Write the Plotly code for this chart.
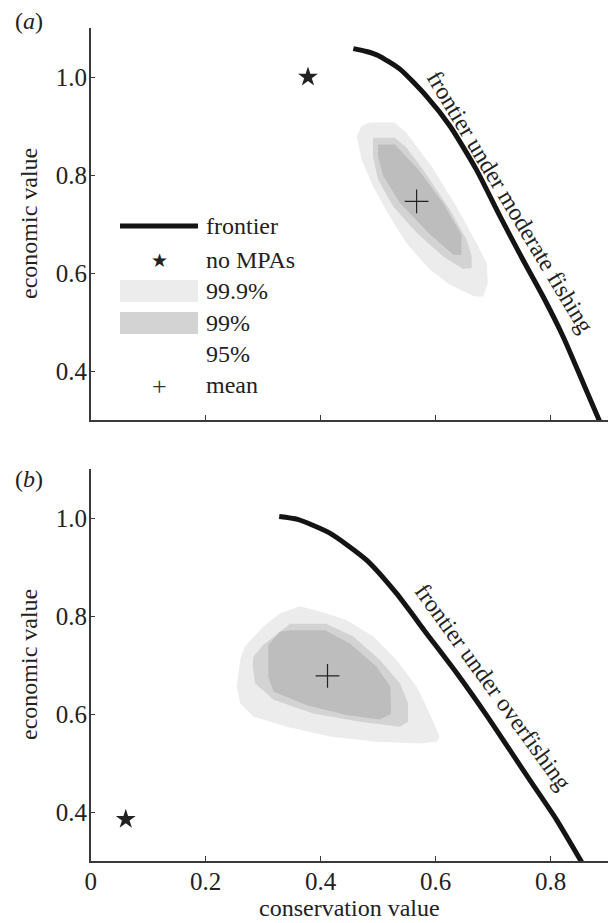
import plotly.graph_objects as go

# ---------------- data ----------------
# panel (a): moderate fishing
frontier_a_x = [0.457, 0.48, 0.50, 0.538, 0.584, 0.625, 0.671, 0.712, 0.752, 0.787, 0.822, 0.857, 0.887]
frontier_a_y = [1.058, 1.052, 1.044, 1.016, 0.961, 0.900, 0.811, 0.716, 0.627, 0.552, 0.470, 0.375, 0.293]
nompa_a = (0.378, 1.0)
mean_a = (0.567, 0.746)
c999_a_x = [0.471, 0.486, 0.529, 0.549, 0.593, 0.636, 0.671, 0.689, 0.691, 0.683, 0.668, 0.625, 0.590, 0.549, 0.520, 0.491, 0.471, 0.463]
c999_a_y = [0.900, 0.907, 0.907, 0.886, 0.818, 0.736, 0.661, 0.620, 0.579, 0.552, 0.552, 0.576, 0.607, 0.661, 0.716, 0.777, 0.832, 0.879]
c99_a_x = [0.491, 0.529, 0.549, 0.578, 0.625, 0.654, 0.663, 0.663, 0.648, 0.613, 0.567, 0.526, 0.500, 0.491]
c99_a_y = [0.876, 0.876, 0.856, 0.811, 0.729, 0.668, 0.634, 0.610, 0.608, 0.634, 0.682, 0.736, 0.791, 0.838]
c95_a_x = [0.500, 0.529, 0.570, 0.613, 0.645, 0.645, 0.631, 0.590, 0.538, 0.509, 0.500]
c95_a_y = [0.862, 0.862, 0.811, 0.743, 0.678, 0.637, 0.637, 0.679, 0.743, 0.798, 0.838]

# panel (b): overfishing
frontier_b_x = [0.328, 0.36, 0.416, 0.48, 0.532, 0.584, 0.637, 0.69, 0.764, 0.81, 0.857]
frontier_b_y = [1.003, 0.997, 0.969, 0.914, 0.846, 0.765, 0.683, 0.595, 0.465, 0.385, 0.292]
nompa_b = (0.061, 0.385)
mean_b = (0.412, 0.678)
c999_b_x = [0.268, 0.300, 0.329, 0.364, 0.399, 0.445, 0.492, 0.532, 0.567, 0.587, 0.607, 0.602, 0.573, 0.492, 0.416, 0.341, 0.283, 0.260, 0.254, 0.260]
c999_b_y = [0.737, 0.778, 0.805, 0.820, 0.809, 0.792, 0.758, 0.710, 0.656, 0.608, 0.554, 0.544, 0.540, 0.544, 0.554, 0.574, 0.595, 0.622, 0.656, 0.710]
c99_b_x = [0.283, 0.300, 0.347, 0.410, 0.457, 0.503, 0.538, 0.552, 0.552, 0.538, 0.468, 0.387, 0.318, 0.286, 0.282]
c99_b_y = [0.717, 0.741, 0.784, 0.784, 0.758, 0.710, 0.663, 0.622, 0.584, 0.574, 0.584, 0.601, 0.629, 0.663, 0.697]
c95_b_x = [0.309, 0.329, 0.347, 0.408, 0.451, 0.497, 0.521, 0.523, 0.503, 0.445, 0.376, 0.318, 0.309]
c95_b_y = [0.741, 0.768, 0.771, 0.771, 0.744, 0.697, 0.656, 0.601, 0.589, 0.598, 0.618, 0.646, 0.676]

x_ticks = [0, 0.2, 0.4, 0.6, 0.8]
x_ticktext = ["0", "0.2", "0.4", "0.6", "0.8"]
y_ticks = [0.4, 0.6, 0.8, 1.0]
y_ticktext = ["0.4", "0.6", "0.8", "1.0"]

legend_labels = ["frontier", "no MPAs", "99.9%", "99%", "95%", "mean"]
frontier_labels = ["frontier under moderate fishing", "frontier under overfishing"]

# ---------------- styling ----------------
FONT = "Liberation Serif"
C999 = "rgb(236,236,236)"
C99 = "rgb(211,211,211)"
C95 = "rgb(189,189,189)"
INK = "#141414"

fig = go.Figure()

panels = [
    ("x", "y", frontier_a_x, frontier_a_y, nompa_a, mean_a,
     (c999_a_x, c999_a_y), (c99_a_x, c99_a_y), (c95_a_x, c95_a_y)),
    ("x2", "y2", frontier_b_x, frontier_b_y, nompa_b, mean_b,
     (c999_b_x, c999_b_y), (c99_b_x, c99_b_y), (c95_b_x, c95_b_y)),
]

for xa, ya, fx, fy, nm, mn, c1, c2, c3 in panels:
    for (cx, cy), col in [(c1, C999), (c2, C99), (c3, C95)]:
        fig.add_trace(go.Scatter(x=cx + [cx[0]], y=cy + [cy[0]], mode="lines",
                                 fill="toself", fillcolor=col, line=dict(width=0, color=col),
                                 xaxis=xa, yaxis=ya, showlegend=False, hoverinfo="skip"))
    fig.add_trace(go.Scatter(x=fx, y=fy, mode="lines", line=dict(color=INK, width=5, shape="spline", smoothing=0.6),
                             xaxis=xa, yaxis=ya, showlegend=False))
    fig.add_trace(go.Scatter(x=[nm[0]], y=[nm[1]], mode="markers",
                             marker=dict(symbol="star", size=15, color="#222", line=dict(width=0)),
                             xaxis=xa, yaxis=ya, showlegend=False))
    fig.add_trace(go.Scatter(x=[mn[0]], y=[mn[1]], mode="markers",
                             marker=dict(symbol="cross-thin", size=17, color="#222", line=dict(width=1.2, color="#222")),
                             xaxis=xa, yaxis=ya, showlegend=False))

XD = [90.7 / 608, 1.0]
YD_A = [1 - 420 / 923, 1 - 28 / 923]
YD_B = [1 - 861 / 923, 1 - 469 / 923]

axis_common = dict(showline=True, linecolor="#3a3a3a", linewidth=1.5, ticks="inside", ticklen=5,
                   tickwidth=1.2, tickcolor="#3a3a3a", showgrid=False, zeroline=False,
                   tickfont=dict(family=FONT, size=25, color="#222"), automargin=False, mirror=False)

fig.update_layout(
    width=608, height=923,
    margin=dict(l=0, r=0, t=0, b=0),
    paper_bgcolor="white", plot_bgcolor="white",
    showlegend=False,
    xaxis=dict(domain=XD, range=[0, 0.9], anchor="y", tickvals=x_ticks, ticktext=x_ticktext,
               showticklabels=False, **axis_common),
    yaxis=dict(domain=YD_A, range=[0.3, 1.1], anchor="x", tickvals=y_ticks, ticktext=y_ticktext,
               ticklabelstandoff=-3, **axis_common),
    xaxis2=dict(domain=XD, range=[0, 0.9], anchor="y2", tickvals=x_ticks, ticktext=x_ticktext,
                ticklabelstandoff=-3, **axis_common),
    yaxis2=dict(domain=YD_B, range=[0.3, 1.1], anchor="x2", tickvals=y_ticks, ticktext=y_ticktext,
                ticklabelstandoff=-3, **axis_common),
)

ann = []
tf = dict(family=FONT, size=24, color="#222")
# panel labels
ann.append(dict(text="(<i>a</i>)", x=29 / 608, y=1 - 21 / 923, xref="paper", yref="paper",
                showarrow=False, font=tf, xanchor="center", yanchor="middle"))
ann.append(dict(text="(<i>b</i>)", x=29 / 608, y=1 - 479 / 923, xref="paper", yref="paper",
                showarrow=False, font=tf, xanchor="center", yanchor="middle"))
# axis titles
for yd in (YD_A, YD_B):
    ann.append(dict(text="economic value", x=29 / 608, y=(yd[0] + yd[1]) / 2, xref="paper", yref="paper",
                    textangle=-90, showarrow=False, font=tf, xanchor="center", yanchor="middle"))
ann.append(dict(text="conservation value", x=(XD[0] + XD[1]) / 2, y=1 - 908 / 923, xref="paper", yref="paper",
                showarrow=False, font=tf, xanchor="center", yanchor="middle"))
# frontier labels
ann.append(dict(text=frontier_labels[0], x=0.730, y=0.745, xref="x", yref="y", textangle=59,
                showarrow=False, font=tf, xanchor="center", yanchor="middle"))
ann.append(dict(text=frontier_labels[1], x=0.700, y=0.655, xref="x2", yref="y2", textangle=54,
                showarrow=False, font=tf, xanchor="center", yanchor="middle"))

# manual legend in panel (a), positioned in axis-domain fractions
def dx(px):
    return (px - 90.7) / 517.3

def dy(py):
    return (420 - py) / 392

label_y = [226, 260, 291, 323, 354, 385]
for lab, py in zip(legend_labels, label_y):
    ann.append(dict(text=lab, x=dx(204), y=dy(py), xref="x domain", yref="y domain",
                    showarrow=False, font=tf, xanchor="left", yanchor="middle"))
ann.append(dict(text="★", x=dx(159), y=dy(260), xref="x domain", yref="y domain",
                showarrow=False, font=dict(family="DejaVu Sans", size=19, color="#222"),
                xanchor="center", yanchor="middle"))
ann.append(dict(text="+", x=dx(159), y=dy(386), xref="x domain", yref="y domain",
                showarrow=False, font=dict(family=FONT, size=26, color="#333"),
                xanchor="center", yanchor="middle"))
fig.update_layout(annotations=ann)

shapes = [
    dict(type="line", xref="x domain", yref="y domain", x0=dx(120), x1=dx(198), y0=dy(226), y1=dy(226),
         line=dict(color=INK, width=5)),
    dict(type="rect", xref="x domain", yref="y domain", x0=dx(120), x1=dx(198), y0=dy(302), y1=dy(280),
         fillcolor=C999, line=dict(width=0)),
    dict(type="rect", xref="x domain", yref="y domain", x0=dx(120), x1=dx(198), y0=dy(334), y1=dy(312),
         fillcolor=C99, line=dict(width=0)),
]
fig.update_layout(shapes=shapes)

fig.write_html("out.html", config={"displayModeBar": False},
               post_script="document.body.style.margin='0px';document.body.style.overflow='hidden';")
